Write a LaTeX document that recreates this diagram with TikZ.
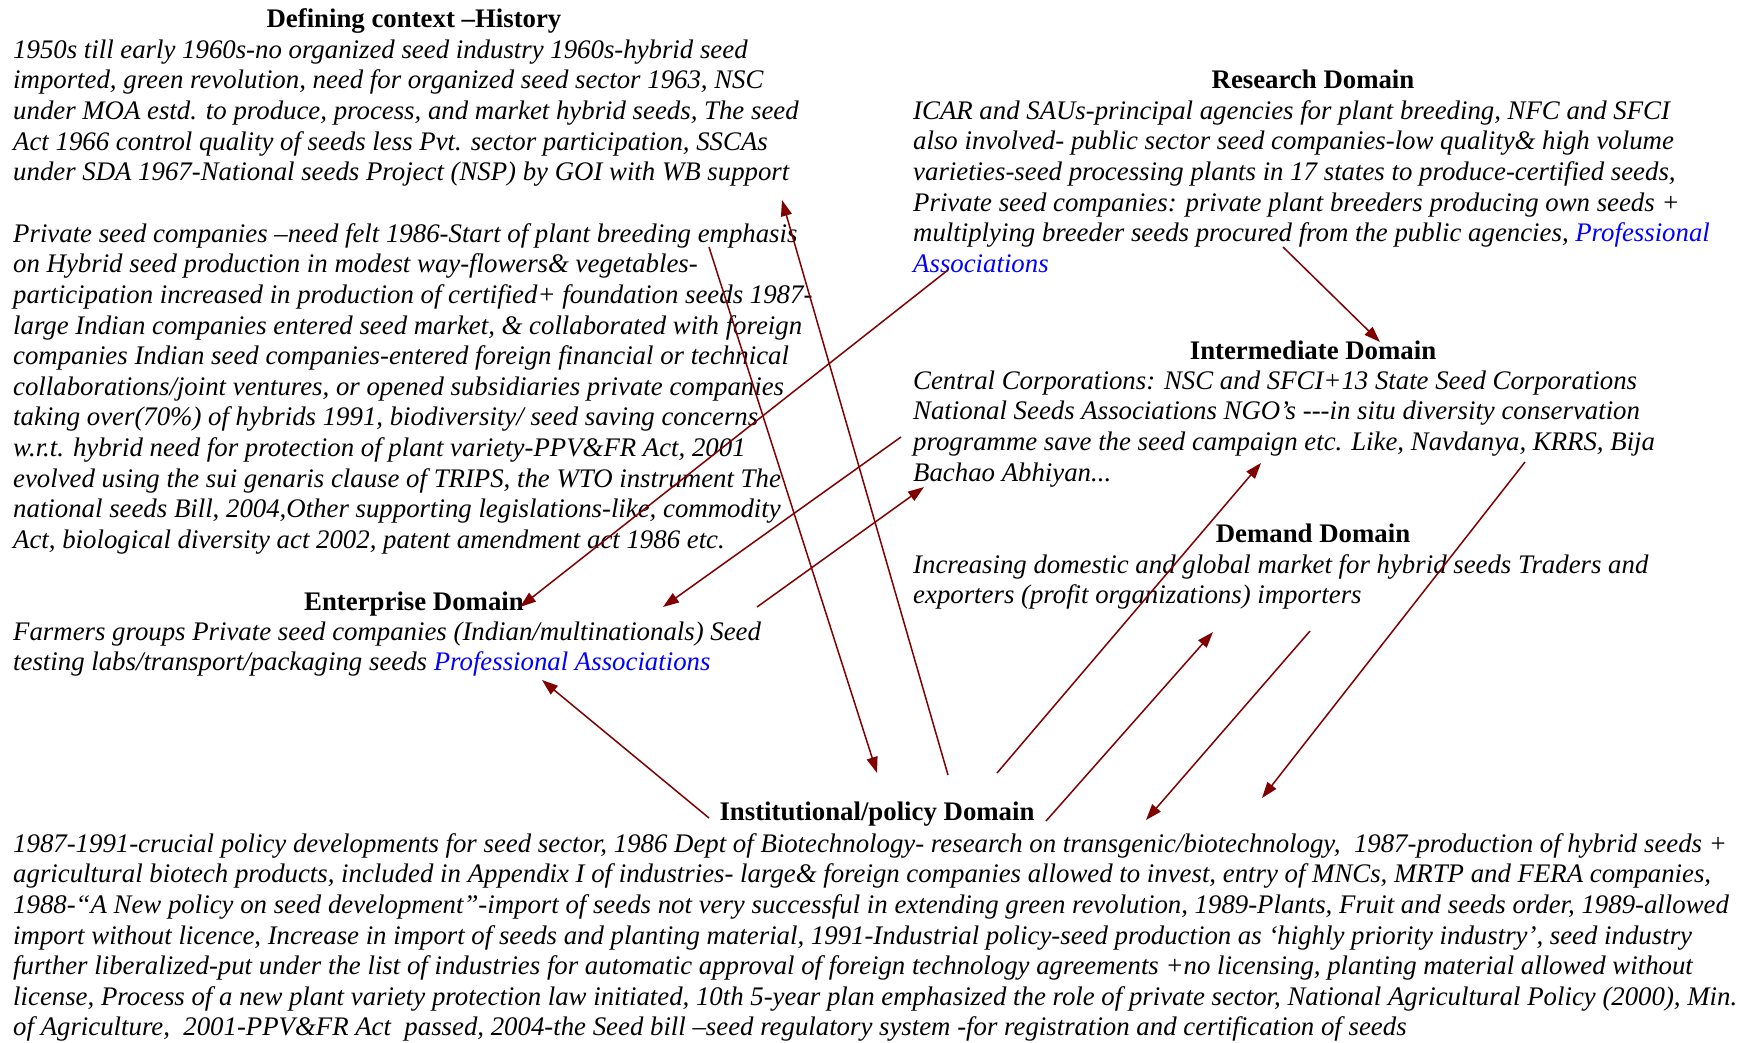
\documentclass[tikz,border=0pt]{standalone}
\usepackage{fontspec}
\setmainfont{Liberation Serif}
\usetikzlibrary{arrows.meta}
\definecolor{arrowred}{RGB}{128,0,0}
\definecolor{linkblue}{RGB}{0,0,255}
\tikzset{
  body/.style={anchor=north west, inner sep=0pt, align=left, font=\fontsize{26.8}{30.6}\selectfont\itshape},
  title/.style={anchor=base, inner sep=0pt, font=\fontsize{26.8}{30.6}\selectfont\bfseries},
  link/.style={arrowred, line width=1.5pt, -{Triangle[length=16pt,width=11pt]}}
}
\newcommand{\topstrut}{\rule{0pt}{22pt}}
\begin{document}
\begin{tikzpicture}[x=1pt,y=-1pt]
\useasboundingbox (0,0) rectangle (1745,1042);
\fill[white] (0,0) rectangle (1745,1042);

% History
\node[title] (histT) at (414,27) {Defining context –History};
\node[body] (hist1) at (13,36) {\topstrut 1950s till early 1960s-no organized seed industry 1960s-hybrid seed\\
imported, green revolution, need for organized seed sector 1963, NSC\\
under MOA estd. to produce, process, and market hybrid seeds, The seed\\
Act 1966 control quality of seeds less Pvt. sector participation, SSCAs\\
under SDA 1967-National seeds Project (NSP) by GOI with WB support};
\node[body] (hist2) at (13,220) {\topstrut Private seed companies –need felt 1986-Start of plant breeding emphasis\\
on Hybrid seed production in modest way-flowers\& vegetables-\\
participation increased in production of certified+ foundation seeds 1987-\\
large Indian companies entered seed market, \& collaborated with foreign\\
companies Indian seed companies-entered foreign financial or technical\\
collaborations/joint ventures, or opened subsidiaries private companies\\
taking over(70\%) of hybrids 1991, biodiversity/ seed saving concerns\\
w.r.t. hybrid need for protection of plant variety-PPV\&FR Act, 2001\\
evolved using the sui genaris clause of TRIPS, the WTO instrument The\\
national seeds Bill, 2004,Other supporting legislations-like, commodity\\
Act, biological diversity act 2002, patent amendment act 1986 etc.};

% Enterprise
\node[title] (entT) at (414,610) {Enterprise Domain};
\node[body] (ent) at (13,618) {\topstrut Farmers groups Private seed companies (Indian/multinationals) Seed\\
testing labs/transport/packaging seeds \textcolor{linkblue}{Professional Associations}};

% Research
\node[title] (resT) at (1313,88) {Research Domain};
\node[body] (res) at (913,97) {\topstrut ICAR and SAUs-principal agencies for plant breeding, NFC and SFCI\\
also involved- public sector seed companies-low quality\& high volume\\
varieties-seed processing plants in 17 states to produce-certified seeds,\\
Private seed companies: private plant breeders producing own seeds +\\
multiplying breeder seeds procured from the public agencies, \textcolor{linkblue}{Professional}\\
\textcolor{linkblue}{Associations}};

% Intermediate
\node[title] (intT) at (1313,359) {Intermediate Domain};
\node[body] (int) at (913,367) {\topstrut Central Corporations: NSC and SFCI+13 State Seed Corporations\\
National Seeds Associations NGO’s {-}{-}{-}in situ diversity conservation\\
programme save the seed campaign etc. Like, Navdanya, KRRS, Bija\\
Bachao Abhiyan...};

% Demand
\node[title] (demT) at (1313,542) {Demand Domain};
\node[body] (dem) at (913,551) {\topstrut Increasing domestic and global market for hybrid seeds Traders and\\
exporters (profit organizations) importers};

% Institutional
\node[title] (insT) at (877,820) {Institutional/policy Domain};
\node[body] (ins) at (13,830) {\topstrut 1987-1991-crucial policy developments for seed sector, 1986 Dept of Biotechnology- research on transgenic/biotechnology,\ \ 1987-production of hybrid seeds +\\
agricultural biotech products, included in Appendix I of industries- large\& foreign companies allowed to invest, entry of MNCs, MRTP and FERA companies,\\
1988-“A New policy on seed development”-import of seeds not very successful in extending green revolution, 1989-Plants, Fruit and seeds order, 1989-allowed\\
import without licence, Increase in import of seeds and planting material, 1991-Industrial policy-seed production as ‘highly priority industry’, seed industry\\
further liberalized-put under the list of industries for automatic approval of foreign technology agreements +no licensing, planting material allowed without\\
license, Process of a new plant variety protection law initiated, 10th 5-year plan emphasized the role of private sector, National Agricultural Policy (2000), Min.\\
of Agriculture,\ \ 2001-PPV\&FR Act\ \ passed, 2004-the Seed bill –seed regulatory system -for registration and certification of seeds};

% connector end points
\coordinate (a1s) at (709,247);  \coordinate (a1e) at (877,773);
\coordinate (a2s) at (948,775);  \coordinate (a2e) at (782,200);
\coordinate (a3s) at (948,270);  \coordinate (a3e) at (520,607);
\coordinate (a4s) at (901,437);  \coordinate (a4e) at (663,607);
\coordinate (a5s) at (757,607);  \coordinate (a5e) at (924,487);
\coordinate (a6s) at (1283,247); \coordinate (a6e) at (1380,342);
\coordinate (a7s) at (709,818);  \coordinate (a7e) at (542,680);
\coordinate (a8s) at (997,773);  \coordinate (a8e) at (1261,463);
\coordinate (a9s) at (1046,821); \coordinate (a9e) at (1213,632);
\coordinate (a10s) at (1310,631); \coordinate (a10e) at (1146,820);
\coordinate (a11s) at (1525,462); \coordinate (a11e) at (1262,798);

\foreach \i in {1,...,11} {\draw[link] (a\i s) -- (a\i e);}
\end{tikzpicture}
\end{document}
